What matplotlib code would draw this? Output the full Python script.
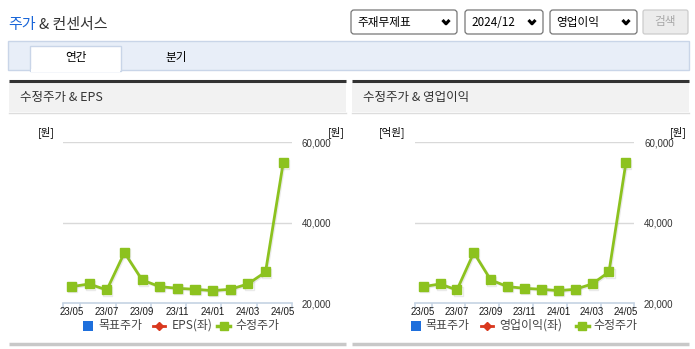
import numpy as np
import matplotlib
matplotlib.use('Agg')
import matplotlib.pyplot as plt
import matplotlib.patches as mpatches
import matplotlib.patheffects as pe

plt.rcParams['font.family'] = ['Noto Sans CJK KR', 'DejaVu Sans']

# ---- data ----
months = ['23/05', '23/06', '23/07', '23/08', '23/09', '23/10', '23/11',
          '23/12', '24/01', '24/02', '24/03', '24/04', '24/05']
price = [24140, 24800, 23310, 32590, 25800, 24140, 23730,
         23480, 23150, 23480, 24800, 27780, 54870]
y_ticks = [20000, 40000, 60000]
panels = ['수정주가 & EPS', '수정주가 & 영업이익']
left_units = ['[원]', '[억원]']
legend_names = [['목표주가', 'EPS(좌)', '수정주가'],
                ['목표주가', '영업이익(좌)', '수정주가']]

GREEN = '#8cc21f'
RED = '#d9381e'
BLUE = '#1e6fdc'
TXT = '#333333'
NUM_FONT = ['Liberation Sans', 'DejaVu Sans']

W, H = 695, 349
fig = plt.figure(figsize=(W / 100, H / 100), dpi=100)
bg = fig.add_axes([0, 0, 1, 1])
bg.set_xlim(0, W)
bg.set_ylim(H, 0)
bg.axis('off')


def rect(x0, y0, x1, y1, **kw):
    bg.add_patch(mpatches.Rectangle((x0, y0), x1 - x0, y1 - y0, **kw))


# ---- page header ----
bg.text(8, 25, '주가', color='#1a66d8', fontsize=10.8, va='center')
bg.text(39, 25, '& 컨센서스', color=TXT, fontsize=10.8, va='center')

boxes = [(351, 457, '주재무제표'), (465, 543, '2024/12'), (550, 637, '영업이익')]
for x0, x1, label in boxes:
    bg.add_patch(mpatches.FancyBboxPatch((x0, 10), x1 - x0, 24,
                                         boxstyle='round,pad=0,rounding_size=3',
                                         fc='white', ec='#767676', lw=0.9))
    bg.text(x0 + 6, 22.5, label, fontsize=8.4, color='black', va='center')
    cx = x1 - 11
    bg.plot([cx - 3.5, cx, cx + 3.5], [20, 23.8, 20], color='black', lw=2.2,
            solid_capstyle='butt')
bg.add_patch(mpatches.FancyBboxPatch((643, 10), 45, 24,
                                     boxstyle='round,pad=0,rounding_size=2',
                                     fc='#ececec', ec='#cccccc', lw=0.9))
bg.text(665.5, 22, '검색', fontsize=8.4, color='#a8a8a8', ha='center', va='center')

# tabs
rect(8, 40.5, 689, 69.5, fc='#e8eef8', ec='#c9d5e8', lw=1)
rect(30, 45.5, 121, 70.5, fc='white', ec='#c9d5e8', lw=1)
rect(30.6, 68.5, 120.4, 71.5, fc='white', ec='none')
bg.text(76, 57.5, '연간', fontsize=8.4, color='black', ha='center', va='center')
bg.text(176, 57, '분기', fontsize=8.4, color='black', ha='center', va='center')

# ---- chart panels ----
panel_x = [(9, 346), (352, 689)]
plot_x = [(62.7, 292.0), (414.7, 634.3)]
y_top, y_bot = 142.3, 303.3

for p in range(2):
    px0, px1 = panel_x[p]
    rect(px0, 82, px1, 112, fc='#f2f2f2', ec='none')
    bg.plot([px0, px1], [81, 81], color='#333333', lw=2.2, solid_capstyle='butt')
    bg.plot([px0, px1], [112.5, 112.5], color='#dddddd', lw=1)
    bg.plot([px0, px1], [343.8, 343.8], color='#c8c8c8', lw=2.5, solid_capstyle='butt')
    bg.text(px0 + 11, 97, panels[p], fontsize=9, color=TXT, va='center')

    ax0, ax1 = plot_x[p]
    ax = fig.add_axes([ax0 / W, (H - y_bot) / H, (ax1 - ax0) / W, (y_bot - y_top) / H])
    ax.patch.set_alpha(0)
    ax.set_xlim(0, len(months))
    ax.set_ylim(y_ticks[0], y_ticks[-1])
    for s in ['top', 'left', 'right']:
        ax.spines[s].set_visible(False)
    ax.spines['bottom'].set_color('#c5d3e3')
    ax.spines['bottom'].set_linewidth(1.2)
    for v in y_ticks[1:]:
        ax.axhline(v, color='#d9d9d9', lw=1, zorder=1)

    x = np.arange(len(months)) + 0.5
    ax.plot(x, price, color=GREEN, lw=2, marker='s', ms=6.5, mec=GREEN,
            clip_on=False, zorder=3,
            path_effects=[pe.SimpleLineShadow(offset=(0.8, -0.8), shadow_color='#999999',
                                              alpha=0.2),
                          pe.Normal()])

    # x axis: ticks on category boundaries, labels every other category
    ax.set_xticks([0] + list(range(1, len(months) + 1, 2)))
    ax.set_xticklabels([])
    ax.tick_params(axis='x', which='major', length=4, width=1.1, color='#c5d3e3')
    ax.set_xticks(x[::2], minor=True)
    ax.set_xticklabels(months[::2], minor=True, fontsize=7, color='#1a1a1a',
                       family=NUM_FONT)
    ax.tick_params(axis='x', which='minor', length=0, pad=3)

    # y axis on the right
    ax.yaxis.tick_right()
    ax.set_yticks(y_ticks)
    ax.set_yticklabels([f'{v:,}' for v in y_ticks], fontsize=7, color='#333333',
                       family=NUM_FONT)
    ax.tick_params(axis='y', length=0, pad=7)

    # unit labels
    if p == 0:
        bg.text(ax0 - 16, 132.5, left_units[p], fontsize=7.5, color='black',
                ha='center', va='center')
    else:
        bg.text(ax0 - 9, 132.5, left_units[p], fontsize=7.5, color='black',
                ha='right', va='center')
    bg.text(ax1 + 44, 132.5, '[원]', fontsize=7.5, color='black',
            ha='center', va='center')

    # legend
    names = legend_names[p]
    lx = (83 if p == 0 else 410.5)
    bg.add_patch(mpatches.Rectangle((lx, 320.5), 10, 10, fc=BLUE, ec='none'))
    bg.text(lx + 15, 325.5, names[0], fontsize=8.6, color='#444444', va='center')
    lx2 = lx + 70
    bg.plot([lx2, lx2 + 12], [325.5, 325.5], color=RED, lw=2)
    bg.plot([lx2 + 6], [325.5], marker='D', ms=4.5, color=RED)
    bg.text(lx2 + 19, 325.5, names[1], fontsize=8.6, color='#444444', va='center')
    lx3 = lx2 + (64 if p == 0 else 95)
    bg.plot([lx3, lx3 + 13], [325.5, 325.5], color=GREEN, lw=2.5)
    bg.plot([lx3 + 6.5], [325.5], marker='s', ms=6, color=GREEN)
    bg.text(lx3 + 18, 325.5, names[2], fontsize=8.6, color='#444444', va='center')

fig.savefig('out.png', dpi=100)
